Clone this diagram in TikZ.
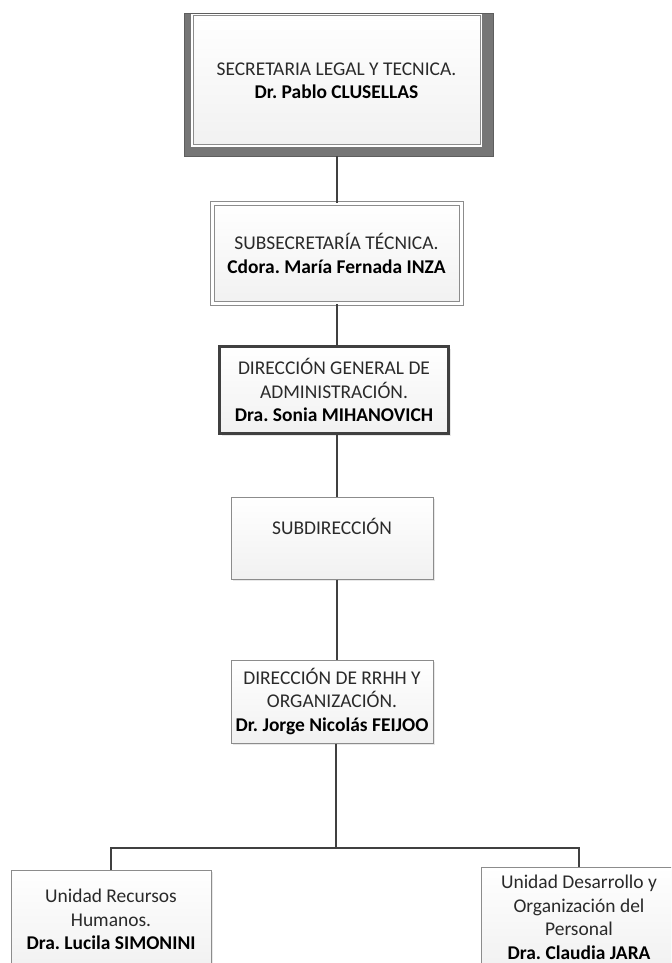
\documentclass[tikz,border=0pt]{standalone}
\usepackage{fontspec}
\setmainfont{Carlito}
\usetikzlibrary{shadows,calc}
\definecolor{linegray}{HTML}{404040}
\definecolor{boxedge}{HTML}{8C8C8C}
\definecolor{frameedge}{HTML}{767676}
\definecolor{txt}{HTML}{2A2A2A}
\frenchspacing
\newcommand\orgfont{\frenchspacing\fontsize{14.6}{17.6}\selectfont}
\newcommand\who[1]{\textbf{\color{black}#1}}
\begin{document}
\begin{tikzpicture}[x=0.75pt,y=-0.75pt,
  boxbase/.style={align=center, inner sep=0pt, font=\orgfont, text=txt,
    top color=white, bottom color=gray!11},
  orgbox/.style={boxbase, draw=boxedge, line width=0.75pt,
    drop shadow={shadow xshift=1.5pt, shadow yshift=-1.5pt, opacity=0.18, fill=gray}},
  link/.style={draw=linegray, line width=1.5pt}]
\clip (0,0) rectangle (671,963);
\fill[white] (0,0) rectangle (671,963);

% top office: heavy grey frame around a light panel
\node[fill=frameedge, draw=frameedge!80!black, line width=0.5pt,
      minimum width=231.75pt, minimum height=107.25pt] (b1) at (338.5,84.5) {};
\node[boxbase, draw=boxedge, line width=0.75pt, preaction={draw=white, line width=2.5pt},
      minimum width=215.25pt, minimum height=96.75pt] (b1in) at (336.5,80.5)
  {SECRETARIA LEGAL Y TECNICA.\\ \who{Dr. Pablo CLUSELLAS}};

% second level: double outline
\node[orgbox, double=white, double distance=2.25pt,
      minimum width=186.75pt, minimum height=75.4pt] (b2) at (336.5,253.5)
  {SUBSECRETARÍA TÉCNICA.\\ \who{Cdora. María Fernada INZA}};

% third level: thick dark outline
\node[orgbox, draw=linegray, line width=2.25pt,
      minimum width=171.75pt, minimum height=65.25pt] (b3) at (334,390)
  {DIRECCIÓN GENERAL DE\\ ADMINISTRACIÓN.\\ \who{Dra. Sonia MIHANOVICH}};

\node[orgbox, minimum width=151.5pt, minimum height=61.5pt] (b4) at (332,538)
  {SUBDIRECCIÓN\\ \mbox{}};

\node[orgbox, minimum width=151.5pt, minimum height=62.25pt] (b5) at (332,701.5)
  {DIRECCIÓN DE RRHH Y\\ ORGANIZACIÓN.\\ \who{Dr. Jorge Nicolás FEIJOO}};

\node[orgbox, minimum width=150pt, minimum height=74.25pt] (b6) at (111,919.5)
  {Unidad Recursos\\ Humanos.\\ \who{Dra. Lucila SIMONINI}};

\node[orgbox, minimum width=147pt, minimum height=75.75pt] (b7) at (579,917.5)
  {Unidad Desarrollo y\\ Organización del\\ Personal\\ \who{Dra. Claudia JARA}};

% connectors
\coordinate (bus) at (336,848);
\draw[link] (b1.south -| b2.north) -- (b2.north);
\draw[link] (b2.south) -- (b2.south |- b3.north);
\draw[link] (b3.south -| b2.south) -- (b4.north -| b2.south);
\draw[link] (b4.south -| b2.south) -- (b5.north -| b2.south);
\draw[link] (b5.south -| bus) -- (bus);
\draw[link] (b6.north) |- (bus) -| (b7.north);
\end{tikzpicture}
\end{document}
